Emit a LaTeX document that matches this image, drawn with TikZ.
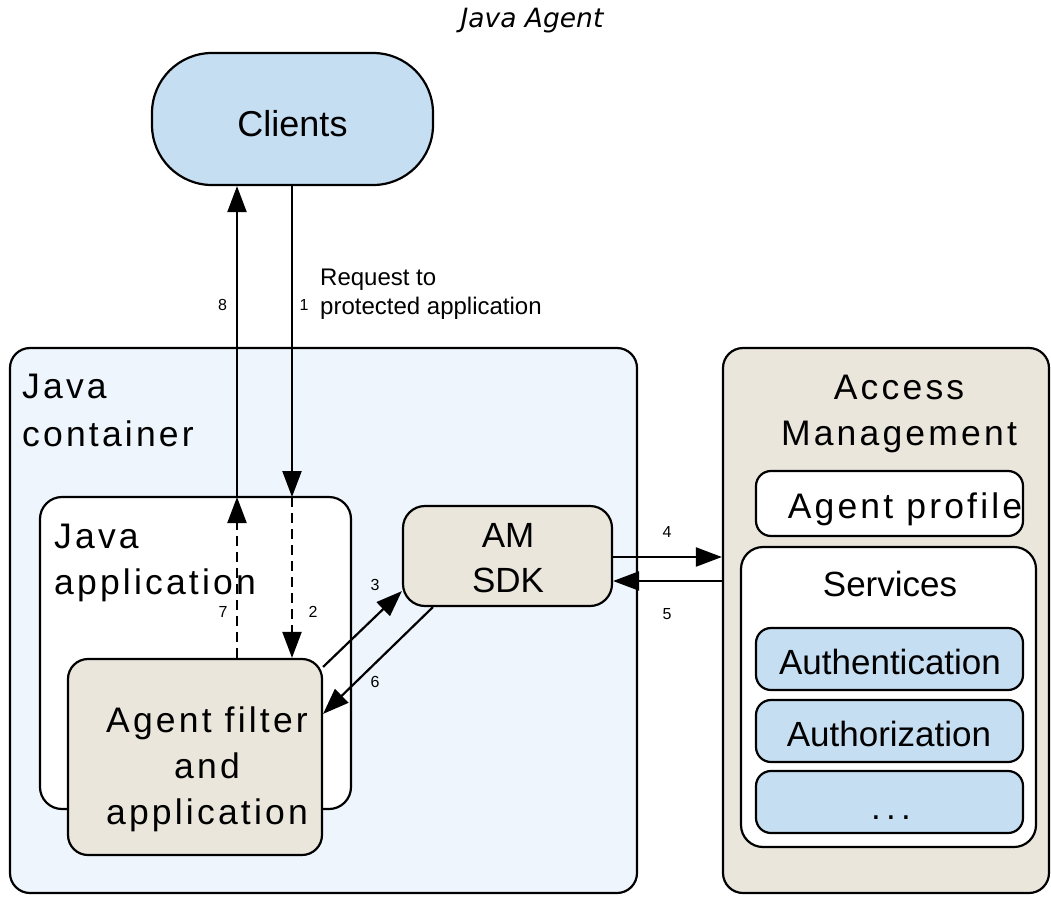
\documentclass[tikz,border=0pt]{standalone}
\usepackage{fontspec}
\setmainfont{Liberation Sans}
\newfontfamily\spacedfont[LetterSpace=9]{Liberation Sans}
\newfontfamily\dotsfont[LetterSpace=15]{Liberation Sans}
\newfontfamily\titlefont{DejaVu Sans}
\usetikzlibrary{arrows.meta,calc}
\definecolor{clientblue}{HTML}{C6DEF2}
\definecolor{contbg}{HTML}{EEF5FC}
\definecolor{beige}{HTML}{EAE6DC}
\begin{document}
\begin{tikzpicture}[x=1pt,y=-1pt,
  box/.style={draw=black, line width=2.2pt, rectangle, inner sep=0pt, rounded corners=20pt},
  lbl/.style={font=\fontsize{16pt}{18pt}\selectfont, inner sep=0pt},
  big/.style={font=\fontsize{35pt}{45pt}\selectfont, inner sep=0pt},
  bigsp/.style={font=\fontsize{35.5pt}{46pt}\spacedfont, inner sep=0pt},
  arr/.style={line width=2.2pt, -{Triangle[length=26pt,width=19pt]}},
  dsh/.style={dash pattern=on 10pt off 6pt}
]
\useasboundingbox (0,0) rectangle (1051,899);

% title
\node[font=\fontsize{26.5pt}{30pt}\titlefont\itshape, anchor=base, inner sep=0pt] (title) at (532,28) {Java Agent};

% clients
\node[box, fill=clientblue, rounded corners=60pt, minimum width=281pt, minimum height=132pt] (clients) at (292.5,119) {};
\node[font=\fontsize{36pt}{40pt}\selectfont, inner sep=0pt, anchor=base] (clientslbl) at (292.5,136) {Clients};

% java container
\node[box, fill=contbg, minimum width=627pt, minimum height=545pt] (cont) at (323.5,620.5) {};
\node[bigsp, anchor=north west, align=left, font=\fontsize{35.5pt}{48pt}\spacedfont] (contlbl) at (22,374) {Java\\container};

% java application
\node[box, fill=white, rounded corners=22pt, minimum width=311pt, minimum height=312pt] (app) at (195.5,653) {};
\node[bigsp, anchor=north west, align=left] (applbl) at (54,524) {Java\\application};

% agent filter
\node[box, fill=beige, minimum width=254pt, minimum height=196pt] (agent) at (195,757) {};
\node[bigsp, anchor=north, align=center] (agentlbl) at (207,707) {Agent filter\\and\\application};

% AM SDK
\node[box, fill=beige, rounded corners=22pt, minimum width=209pt, minimum height=100pt] (sdk) at (507.5,556) {};
\node[big, anchor=north, align=center] (sdklbl) at (508,523) {AM\\SDK};

% Access Management
\node[box, fill=beige, minimum width=326pt, minimum height=545pt] (am) at (886,620.5) {};
\node[bigsp, anchor=north, align=center] (amlbl) at (899,375) {Access\\Management};
\node[box, fill=white, rounded corners=15pt, minimum width=267pt, minimum height=65pt] (profile) at (889.5,503.5) {};
\node[bigsp, anchor=base] (profilelbl) at (905,518) {Agent profile};
\node[box, fill=white, rounded corners=22pt, minimum width=295pt, minimum height=300pt] (services) at (888.5,697) {};
\node[big, anchor=base] (serviceslbl) at (890,596) {Services};
\node[box, fill=clientblue, rounded corners=15pt, minimum width=267pt, minimum height=62pt] (authn) at (889.5,659) {};
\node[big, anchor=base] (authnlbl) at (890,674) {Authentication};
\node[box, fill=clientblue, rounded corners=15pt, minimum width=267pt, minimum height=62pt] (authz) at (889.5,731) {};
\node[big, anchor=base] (authzlbl) at (889,746) {Authorization};
\node[box, fill=clientblue, rounded corners=15pt, minimum width=267pt, minimum height=62pt] (more) at (889.5,802) {};
\node[font=\fontsize{35pt}{40pt}\dotsfont, inner sep=0pt, anchor=base] (morelbl) at (891,819) {...};

% arrows 1,2,7,8
\coordinate (c8) at (237,497);
\coordinate (c1) at (292,497);
\draw[arr,dsh] (agent.north -| c8) -- (c8);
\draw[arr] (c8) -- (c8 |- clients.south);
\draw[arr] (c1 |- clients.south) -- (c1);
\draw[arr,dsh] (c1) -- (c1 |- agent.north);

% arrows 3,6
\draw[arr] ($(agent.north east)+(0,9)$) -- ($(sdk.south west)+(0,-16)$);
\draw[arr] ($(sdk.south west)+(31,0)$) -- ($(agent.north east)+(0,56)$);

% arrows 4,5
\coordinate (p4) at ($(sdk.east)+(0,1)$);
\coordinate (p5) at ($(sdk.east)+(0,25)$);
\draw[arr] (p4) -- (p4 -| am.west);
\draw[arr] (p5 -| am.west) -- (p5);

% labels
\node[lbl] (l8) at (222.5,304.5) {8};
\node[lbl] (l1) at (304,305) {1};
\node[font=\fontsize{24pt}{29pt}\selectfont, inner sep=0pt, anchor=base west] (req) at (320,285) {Request to};
\node[font=\fontsize{24pt}{29pt}\selectfont, inner sep=0pt, anchor=base west] (req2) at (320,314) {protected application};
\node[lbl] (l7) at (223,612) {7};
\node[lbl] (l2) at (313,612) {2};
\node[lbl] (l3) at (375,585) {3};
\node[lbl] (l6) at (375,682) {6};
\node[lbl] (l4) at (667,532) {4};
\node[lbl] (l5) at (667,614) {5};
\end{tikzpicture}
\end{document}
